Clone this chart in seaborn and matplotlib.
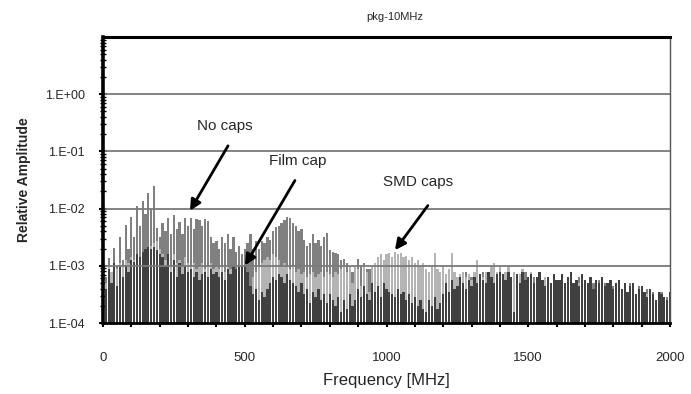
import numpy as np
import pandas as pd
import matplotlib
matplotlib.use("Agg")
import matplotlib.pyplot as plt
import seaborn as sns
from matplotlib.ticker import FixedLocator, FuncFormatter, NullFormatter

# ---------------- data ----------------
freq_mhz = list(range(10, 2001, 10))

# log10 of relative amplitude, one value per 10 MHz harmonic
no_caps_log10 = [
    -3.2, -2.87, -3.1, -2.69, -3.0, -2.5, -2.9, -2.28, -2.7, -2.14, -2.5, -1.95, -2.3, -1.86, -2.1, -1.72, -2.0, -1.61, -2.34, -2.5,
    -2.25, -2.4, -2.16, -2.45, -2.12, -2.35, -2.23, -2.45, -2.16, -2.3, -2.16, -2.35, -2.18, -2.2, -2.3, -2.18, -2.22, -2.5, -2.6, -2.57,
    -2.7, -2.5, -2.6, -2.44, -2.7, -2.5, -2.75, -2.66, -2.8, -2.7, -2.6, -2.44, -2.7, -2.57, -2.7, -2.57, -2.6, -2.5, -2.55, -2.39,
    -2.32, -2.3, -2.25, -2.2, -2.14, -2.16, -2.25, -2.3, -2.4, -2.36, -2.55, -2.66, -2.6, -2.44, -2.6, -2.55, -2.66, -2.5, -2.42, -2.72,
    -2.75, -2.78, -2.8, -2.9, -2.88, -2.95, -3.0, -3.1, -3.0, -2.88, -3.0, -2.95, -3.05, -3.06, -3.2, -3.15, -3.0, -3.1, -3.2, -3.1,
    -3.05, -3.2, -3.0, -3.1, -3.25, -3.0, -3.15, -3.3, -3.05, -3.2, -3.1, -3.35, -3.0, -3.2, -3.3, -3.1, -3.25, -3.4, -3.15, -3.3,
    -3.2, -3.1, -3.3, -3.15, -3.25, -3.4, -3.2, -3.1, -3.3, -3.2, -3.35, -3.15, -3.25, -3.1, -3.3, -3.2, -3.05, -3.25, -3.15, -3.3,
    -3.2, -3.3, -3.1, -3.25, -3.15, -3.35, -3.2, -3.3, -3.1, -3.25, -3.4, -3.2, -3.3, -3.15, -3.25, -3.35, -3.2, -3.3, -3.4, -3.25,
    -3.3, -3.2, -3.35, -3.25, -3.15, -3.3, -3.4, -3.2, -3.3, -3.25, -3.35, -3.2, -3.3, -3.45, -3.25, -3.35, -3.3, -3.4, -3.25, -3.35,
    -3.4, -3.3, -3.45, -3.35, -3.5, -3.3, -3.4, -3.55, -3.35, -3.45, -3.5, -3.4, -3.55, -3.45, -3.6, -3.5, -3.45, -3.6, -3.55, -3.5,
]

smd_caps_log10 = [
    -3.3, -3.0, -3.1, -3.0, -3.05, -2.95, -3.0, -2.9, -2.95, -2.85, -2.9, -2.85, -2.92, -2.8, -2.75, -2.7, -2.65, -2.6, -2.57, -2.7,
    -2.8, -2.9, -2.85, -3.0, -2.8, -2.95, -2.9, -3.0, -2.85, -2.95, -3.0, -2.95, -3.05, -3.0, -2.95, -3.06, -3.0, -2.95, -3.05, -3.0,
    -3.05, -3.0, -3.1, -2.98, -3.05, -3.0, -3.1, -3.0, -3.2, -3.3, -3.45, -3.35, -3.2, -3.1, -3.0, -2.95, -2.9, -2.85, -2.9, -2.8,
    -2.85, -2.9, -3.0, -2.95, -3.0, -3.05, -3.0, -3.1, -3.05, -3.15, -3.1, -3.2, -3.15, -3.1, -3.2, -3.15, -3.1, -3.2, -3.1, -3.15,
    -3.2, -3.1, -3.15, -3.05, -3.0, -3.1, -3.0, -3.3, -3.0, -3.05, -3.35, -3.0, -3.1, -3.45, -3.0, -2.95, -2.85, -2.8, -2.9, -2.8,
    -2.78, -2.85, -2.75, -2.8, -2.78, -2.85, -2.82, -2.9, -2.85, -2.95, -2.9, -3.0, -2.95, -3.05, -3.1, -3.0, -2.77, -3.05, -3.1, -3.0,
    -3.15, -3.05, -2.78, -3.1, -3.2, -3.15, -3.1, -3.2, -3.15, -3.25, -3.1, -2.9, -3.15, -3.2, -3.1, -3.25, -3.0, -2.95, -3.1, -2.98,
    -3.2, -3.1, -3.0, -3.25, -3.1, -3.3, -3.15, -3.05, -3.3, -3.2, -3.1, -3.3, -3.4, -3.25, -3.3, -3.2, -3.35, -3.3, -3.4, -3.3,
    -3.35, -3.3, -3.4, -3.3, -3.2, -3.35, -3.45, -3.3, -3.4, -3.3, -3.4, -3.35, -3.45, -3.4, -3.3, -3.45, -3.4, -3.5, -3.35, -3.45,
    -3.5, -3.45, -3.55, -3.45, -3.6, -3.5, -3.55, -3.65, -3.5, -3.6, -3.55, -3.5, -3.65, -3.55, -3.7, -3.6, -3.55, -3.7, -3.6, -3.55,
]

film_cap_log10 = [
    -3.4, -3.05, -3.3, -2.95, -3.36, -3.0, -3.2, -2.98, -3.1, -2.9, -2.94, -2.8, -2.85, -2.75, -2.7, -2.67, -2.7, -2.68, -2.72, -2.8,
    -2.85, -3.0, -2.8, -3.1, -2.9, -3.2, -2.95, -3.15, -3.0, -3.1, -3.06, -3.2, -3.1, -3.24, -3.15, -3.1, -3.2, -3.05, -3.15, -3.1,
    -3.2, -3.1, -3.24, -3.06, -3.15, -3.0, -3.05, -3.0, -3.02, -3.0, -3.1, -3.35, -3.5, -3.4, -3.6, -3.45, -3.55, -3.4, -3.3, -3.2,
    -3.25, -3.15, -3.2, -3.3, -3.15, -3.25, -3.3, -3.35, -3.45, -3.3, -3.5, -3.4, -3.65, -3.45, -3.55, -3.4, -3.6, -3.5, -3.65, -3.5,
    -3.6, -3.7, -3.55, -3.8, -3.6, -3.75, -3.5, -3.7, -3.6, -3.4, -3.55, -3.35, -3.5, -3.6, -3.3, -3.45, -3.35, -3.55, -3.3, -3.4,
    -3.45, -3.5, -3.55, -3.4, -3.5, -3.45, -3.6, -3.5, -3.65, -3.55, -3.7, -3.6, -3.75, -3.8, -3.6, -3.7, -3.55, -3.75, -3.65, -3.5,
    -3.3, -3.45, -3.25, -3.4, -3.35, -3.2, -3.3, -3.4, -3.25, -3.35, -3.2, -3.3, -3.15, -3.25, -3.3, -3.1, -3.2, -3.3, -3.15, -3.1,
    -3.15, -3.25, -3.1, -3.2, -3.8, -3.15, -3.3, -3.1, -3.25, -3.2, -3.15, -3.3, -3.2, -3.1, -3.25, -3.35, -3.2, -3.3, -3.15, -3.25,
    -3.25, -3.15, -3.3, -3.2, -3.1, -3.3, -3.25, -3.35, -3.15, -3.25, -3.3, -3.2, -3.4, -3.25, -3.3, -3.2, -3.35, -3.3, -3.25, -3.4,
    -3.3, -3.25, -3.4, -3.3, -3.45, -3.35, -3.3, -3.5, -3.4, -3.35, -3.45, -3.55, -3.4, -3.5, -3.6, -3.45, -3.5, -3.55, -3.6, -3.45,
]

series_names = ["No caps", "SMD caps", "Film cap"]
series_colors = ["#808080", "#b4b4b4", "#404040"]
y_tick_values = [1e-4, 1e-3, 1e-2, 1e-1, 1e0]
x_tick_values = [0, 500, 1000, 1500, 2000]

# ---------------- plot ----------------
sns.set_theme(style="white")
plt.rcParams["font.family"] = ["Liberation Sans", "DejaVu Sans"]

fig = plt.figure(figsize=(6.91, 3.94), dpi=100)
W, H = 691, 394
ax = fig.add_axes([103 / W, 1 - 323 / H, (670 - 103) / W, (323 - 37) / H])

for name, logs, color in zip(series_names, [no_caps_log10, smd_caps_log10, film_cap_log10], series_colors):
    df = pd.DataFrame({"Frequency": freq_mhz, "Amplitude": 10.0 ** np.array(logs)})
    sns.barplot(data=df, x="Frequency", y="Amplitude", native_scale=True,
                color=color, saturation=1, width=0.8, errorbar=None,
                linewidth=0, edgecolor="none", ax=ax, label=name)

ax.set_yscale("log")
ax.set_ylim(1e-4, 1e1)
ax.set_xlim(0, 2000)

# grid lines (drawn over the bars, as in the reference)
for v in [1e-3, 1e-2, 1e-1, 1e0]:
    ax.axhline(v, color="#7a7a7a", lw=1.3, zorder=5)

ax.yaxis.set_major_locator(FixedLocator(y_tick_values))
ax.yaxis.set_major_formatter(FuncFormatter(lambda v, p: "1.E%+03d" % int(round(np.log10(v)))))
minor_y = [m * 10.0 ** e for e in range(-4, 1) for m in range(2, 10)]
ax.yaxis.set_minor_locator(FixedLocator(minor_y))
ax.yaxis.set_minor_formatter(NullFormatter())

ax.xaxis.set_major_locator(FixedLocator(x_tick_values))
ax.xaxis.set_major_formatter(FuncFormatter(lambda v, p: "%d" % v))
ax.xaxis.set_minor_locator(FixedLocator(list(range(100, 2000, 100))))

ax.tick_params(axis="y", which="major", direction="inout", length=6, width=1.5,
               color="black", labelsize=9, pad=10, left=True)
ax.tick_params(axis="y", which="minor", direction="inout", length=4, width=1.0,
               color="black", left=True)
ax.tick_params(axis="x", which="both", direction="out", length=3, width=1.5,
               color="black", labelsize=9.5, pad=18, bottom=True)

for side, lw, col in [("left", 2.6, "black"), ("top", 2.2, "black"),
                      ("bottom", 2.0, "black"), ("right", 1.0, "#555555")]:
    ax.spines[side].set_visible(True)
    ax.spines[side].set_linewidth(lw)
    ax.spines[side].set_color(col)
    ax.spines[side].set_zorder(6)

ax.set_xlabel("Frequency [MHz]", fontsize=12, labelpad=6)
ax.set_ylabel("Relative Amplitude", fontsize=10, fontweight="bold", labelpad=10)
fig.text(395 / W, 1 - 17 / H, "pkg-10MHz", fontsize=8, ha="center", va="center")

arrow = dict(arrowstyle="-|>", lw=2.0, color="black", mutation_scale=16,
             shrinkA=0, shrinkB=0)
ax.annotate("", xy=(307, 9.2e-3), xytext=(441, 0.125), arrowprops=arrow, zorder=7)
ax.text(430, 0.28, "No caps", fontsize=11, ha="center", va="center")
ax.annotate("", xy=(501, 1.02e-3), xytext=(677, 0.031), arrowprops=arrow, zorder=7)
ax.text(688, 0.068, "Film cap", fontsize=11, ha="center", va="center")
ax.annotate("", xy=(1030, 1.88e-3), xytext=(1146, 0.0113), arrowprops=arrow, zorder=7)
ax.text(1111, 0.029, "SMD caps", fontsize=11, ha="center", va="center")

legend = ax.get_legend()
if legend is not None:
    legend.remove()

fig.savefig("out.png", dpi=100)
